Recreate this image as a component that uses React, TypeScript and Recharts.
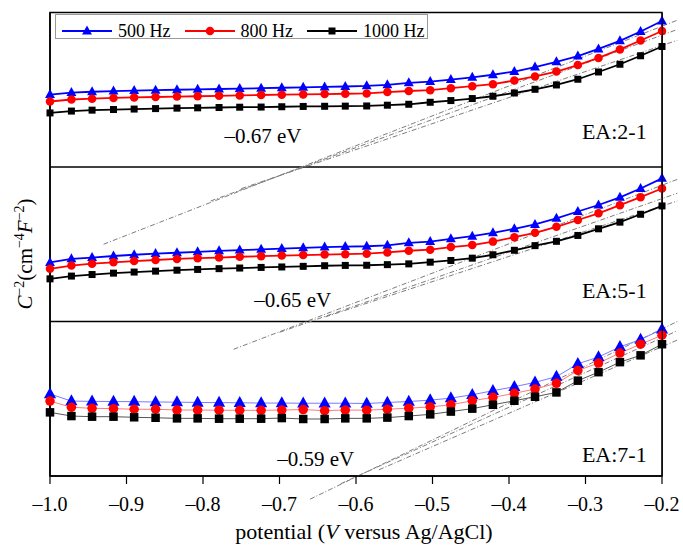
import React from "react";
import { LineChart, Line, XAxis, YAxis, ReferenceLine, ReferenceDot, ReferenceArea } from "recharts";

/**
 * Mott–Schottky plots (C^-2 vs potential) for three EA ratios,
 * stacked in three panels sharing one potential axis.
 * Panel values are in relative units (0–10 = panel height).
 */

const FONT = '"Liberation Serif", "Times New Roman", serif';

// potential (V versus Ag/AgCl)
const potential = [
  -1.0, -0.972, -0.945, -0.917, -0.89, -0.862, -0.834, -0.807, -0.779, -0.752,
  -0.724, -0.697, -0.669, -0.641, -0.614, -0.586, -0.559, -0.531, -0.503, -0.476,
  -0.448, -0.421, -0.393, -0.366, -0.338, -0.31, -0.283, -0.255, -0.228, -0.2,
];
const potentialTicks = [-1.0, -0.9, -0.8, -0.7, -0.6, -0.5, -0.4, -0.3, -0.2];

// EA:2-1
const ea21Hz500 = [4.69, 4.82, 4.87, 4.91, 4.94, 4.97, 5.0, 5.02, 5.05, 5.07, 5.1, 5.13, 5.15, 5.18, 5.21, 5.25, 5.32, 5.45, 5.53, 5.66, 5.8, 5.97, 6.18, 6.47, 6.8, 7.18, 7.64, 8.16, 8.77, 9.45];
const ea21Hz800 = [4.24, 4.37, 4.42, 4.47, 4.5, 4.53, 4.56, 4.58, 4.61, 4.63, 4.66, 4.68, 4.7, 4.72, 4.74, 4.76, 4.85, 4.92, 4.97, 5.1, 5.23, 5.36, 5.6, 5.86, 6.18, 6.6, 7.06, 7.61, 8.19, 8.8];
const ea21Hz1000 = [3.5, 3.62, 3.68, 3.72, 3.75, 3.78, 3.81, 3.83, 3.85, 3.87, 3.88, 3.9, 3.92, 3.93, 3.94, 3.95, 4.0, 4.06, 4.19, 4.3, 4.43, 4.58, 4.79, 5.03, 5.31, 5.68, 6.15, 6.65, 7.2, 7.8];

// EA:5-1
const ea51Hz500 = [3.82, 4.05, 4.14, 4.24, 4.32, 4.39, 4.45, 4.51, 4.57, 4.62, 4.67, 4.72, 4.77, 4.82, 4.85, 4.87, 4.93, 5.09, 5.17, 5.35, 5.52, 5.74, 6.0, 6.28, 6.67, 7.12, 7.54, 8.03, 8.61, 9.26];
const ea51Hz800 = [3.41, 3.62, 3.74, 3.83, 3.91, 3.98, 4.05, 4.1, 4.14, 4.19, 4.23, 4.27, 4.3, 4.33, 4.36, 4.39, 4.47, 4.58, 4.65, 4.82, 4.95, 5.17, 5.46, 5.74, 6.13, 6.57, 7.0, 7.53, 8.05, 8.61];
const ea51Hz1000 = [2.76, 2.94, 3.04, 3.13, 3.2, 3.26, 3.32, 3.37, 3.42, 3.46, 3.5, 3.53, 3.57, 3.61, 3.63, 3.64, 3.68, 3.73, 3.84, 3.95, 4.1, 4.32, 4.61, 4.91, 5.19, 5.57, 6.0, 6.43, 6.94, 7.48];

// EA:7-1
const ea71Hz500 = [5.31, 4.85, 4.83, 4.82, 4.81, 4.79, 4.78, 4.76, 4.75, 4.74, 4.72, 4.72, 4.71, 4.71, 4.71, 4.69, 4.76, 4.82, 4.91, 5.04, 5.26, 5.52, 5.78, 6.06, 6.43, 7.26, 7.7, 8.36, 8.83, 9.49];
const ea71Hz800 = [4.85, 4.45, 4.38, 4.36, 4.32, 4.32, 4.27, 4.27, 4.26, 4.25, 4.25, 4.27, 4.3, 4.23, 4.27, 4.26, 4.32, 4.39, 4.47, 4.61, 4.87, 5.09, 5.35, 5.63, 6.0, 6.83, 7.31, 7.96, 8.53, 9.11];
const ea71Hz1000 = [4.12, 3.88, 3.84, 3.84, 3.8, 3.77, 3.73, 3.73, 3.71, 3.71, 3.71, 3.75, 3.69, 3.69, 3.73, 3.73, 3.78, 3.88, 3.99, 4.17, 4.36, 4.61, 4.87, 5.13, 5.41, 6.17, 6.72, 7.37, 7.81, 8.53];

// linear fits extrapolated to the flat-band potential: [[x0, y0], [x1, y1]]
const fits21 = [
  [[-0.93, -5.0], [-0.18, 9.5]],
  [[-0.79, -2.2], [-0.18, 8.9]],
  [[-0.75, -1.4], [-0.18, 8.2]],
];
const fits51 = [
  [[-0.76, -1.8], [-0.18, 9.2]],
  [[-0.7, -0.7], [-0.18, 8.3]],
  [[-0.64, 0.3], [-0.18, 7.8]],
];
const fits71 = [
  [[-0.66, -1.5], [-0.18, 10.0]],
  [[-0.62, -0.5], [-0.18, 9.4]],
  [[-0.57, 0.4], [-0.18, 8.8]],
];

const flatBandLabels = ["–0.67 eV", "–0.65 eV", "–0.59 eV"];
const sampleLabels = ["EA:2-1", "EA:5-1", "EA:7-1"];

const rows = potential.map((x, i) => ({
  x,
  a500: ea21Hz500[i], a800: ea21Hz800[i], a1000: ea21Hz1000[i],
  b500: ea51Hz500[i], b800: ea51Hz800[i], b1000: ea51Hz1000[i],
  c500: ea71Hz500[i], c800: ea71Hz800[i], c1000: ea71Hz1000[i],
}));

const makeDot = (shape: string, color: string, size: number) => (props: any) => {
  const { cx, cy, index } = props;
  if (cx == null || cy == null) return <g key={index} />;
  if (shape === "triangle") {
    const s = size;
    return (
      <path
        key={index}
        d={`M${cx},${cy - s * 0.62}L${cx + s * 0.55},${cy + s * 0.38}L${cx - s * 0.55},${cy + s * 0.38}Z`}
        fill={color}
      />
    );
  }
  if (shape === "circle") return <circle key={index} cx={cx} cy={cy} r={size / 2} fill={color} />;
  return <rect key={index} x={cx - size / 2} y={cy - size / 2} width={size} height={size} fill={color} />;
};

const panels = [
  { id: "p1", keys: ["a500", "a800", "a1000"], fits: fits21, thin: false, fb: { x: -0.772, y: 1.55 }, ea: { x: -0.22, y: 1.8 } },
  { id: "p2", keys: ["b500", "b800", "b1000"], fits: fits51, thin: false, fb: { x: -0.733, y: 0.97 }, ea: { x: -0.22, y: 1.49 } },
  { id: "p3", keys: ["c500", "c800", "c1000"], fits: fits71, thin: true, fb: { x: -0.703, y: 0.65 }, ea: { x: -0.22, y: 0.91 } },
];

const freqStyle = [
  { name: "500 Hz", color: "#0000ff", thinColor: "#7a7aff", shape: "triangle", size: 9, bigSize: 11 },
  { name: "800 Hz", color: "#ff0000", thinColor: "#ff7a7a", shape: "circle", size: 8.5, bigSize: 9.5 },
  { name: "1000 Hz", color: "#000000", thinColor: "#555555", shape: "square", size: 7, bigSize: 8.5 },
];

const MARGIN = { top: 12.5, right: 21, left: 50, bottom: 10 };
const X_AXIS_H = 60;

const fmtTick = (v: number) => (v < 0 ? "–" : "") + Math.abs(v).toFixed(1);

const XTitle = (props: any) => {
  const vb = props.viewBox;
  return (
    <text x={vb.x + vb.width / 2 + 8} y={539} textAnchor="middle" fontFamily={FONT} fontSize={22} fill="#000">
      potential (<tspan fontStyle="italic">V</tspan> versus Ag/AgCl)
    </text>
  );
};

const YTitle = (props: any) => {
  const vb = props.viewBox;
  const x = vb.x - 18;
  const y = 254;
  return (
    <text x={x} y={y} transform={`rotate(-90, ${x}, ${y})`} textAnchor="middle" fontFamily={FONT} fontSize={21} fill="#000">
      <tspan fontStyle="italic">C</tspan>
      <tspan dy={-8} fontSize={14}>−2</tspan>
      <tspan dy={8}>(cm</tspan>
      <tspan dy={-8} fontSize={14}>−4</tspan>
      <tspan dy={8} fontStyle="italic">F</tspan>
      <tspan dy={-8} fontSize={14}>−2</tspan>
      <tspan dy={8}>)</tspan>
    </text>
  );
};

const LegendMark = ({ f }: { f: any }) => {
  const dot = makeDot(f.shape, f.color, f.size);
  return (
    <svg width={50} height={14} style={{ display: "block" }}>
      <line x1={0} y1={7} x2={50} y2={7} stroke={f.color} strokeWidth={2} />
      {dot({ cx: 25, cy: 7, index: 0 })}
    </svg>
  );
};

export default function App() {
  const W = 683;
  const H = 546;
  return (
    <div style={{ position: "relative", width: W, height: H, overflow: "hidden", background: "#fff" }}>
      <style>{"html, body { margin: 0; padding: 0; overflow: hidden; }"}</style>
      <LineChart width={W} height={H} data={rows} margin={MARGIN}>
        <XAxis
          dataKey="x"
          type="number"
          domain={[-1.0, -0.2]}
          ticks={potentialTicks}
          tickFormatter={fmtTick}
          height={X_AXIS_H}
          tickSize={8}
          tickMargin={13}
          axisLine={{ stroke: "#000", strokeWidth: 1.5 }}
          tickLine={{ stroke: "#000", strokeWidth: 1.2 }}
          tick={{ fill: "#000", fontSize: 20, fontFamily: FONT }}
          label={(p: any) => <XTitle {...p} />}
        />
        <YAxis yAxisId="p3" domain={[0, 30]} hide />
        <YAxis yAxisId="p2" domain={[-10, 20]} hide />
        <YAxis yAxisId="p1" domain={[-20, 10]} hide />

        {/* outer frame */}
        <ReferenceArea
          yAxisId="p3"
          x1={-1.0}
          x2={-0.2}
          y1={0}
          y2={30}
          ifOverflow="visible"
          fill="none"
          fillOpacity={0}
          stroke="#000"
          strokeWidth={1.5}
          strokeOpacity={1}
        />
        {/* left edge carries the y title; panel dividers */}
        <ReferenceLine yAxisId="p3" x={-1.0} ifOverflow="visible" stroke="#000" strokeWidth={1.5} label={(p: any) => <YTitle {...p} />} />
        <ReferenceLine yAxisId="p1" y={0} stroke="#000" strokeWidth={1.5} />
        <ReferenceLine yAxisId="p2" y={0} stroke="#000" strokeWidth={1.5} />

        {panels.map((p) =>
          p.fits.map((seg, j) => (
            <ReferenceLine
              key={`${p.id}-fit-${j}`}
              yAxisId={p.id}
              segment={[{ x: seg[0][0], y: seg[0][1] }, { x: seg[1][0], y: seg[1][1] }]}
              ifOverflow="visible"
              stroke="#7d7d7d"
              strokeWidth={1}
              strokeDasharray="5 2 1 2"
            />
          ))
        )}

        {panels.map((p) =>
          p.keys.map((k, j) => {
            const f = freqStyle[j];
            return (
              <Line
                key={k}
                dataKey={k}
                yAxisId={p.id}
                type="linear"
                stroke={p.thin ? f.thinColor : f.color}
                strokeWidth={p.thin ? 1 : 1.8}
                dot={makeDot(f.shape, f.color, p.thin ? f.bigSize : f.size)}
                activeDot={false}
                isAnimationActive={false}
              />
            );
          })
        )}

        {panels.map((p, i) => (
          <ReferenceDot
            key={`${p.id}-fb`}
            yAxisId={p.id}
            x={p.fb.x}
            y={p.fb.y}
            r={0}
            shape={(s: any) => (
              <text x={s.cx} y={s.cy} fontFamily={FONT} fontSize={21} fill="#000">
                {flatBandLabels[i]}
              </text>
            )}
          />
        ))}
        {panels.map((p, i) => (
          <ReferenceDot
            key={`${p.id}-ea`}
            yAxisId={p.id}
            x={p.ea.x}
            y={p.ea.y}
            r={0}
            shape={(s: any) => (
              <text x={s.cx} y={s.cy} textAnchor="end" fontFamily={FONT} fontSize={22} fill="#000">
                {sampleLabels[i]}
              </text>
            )}
          />
        ))}
      </LineChart>

      {/* right edge of the plot frame, drawn over the plot area box */}
      <div
        style={{
          position: "absolute",
          left: MARGIN.left,
          top: MARGIN.top,
          width: W - MARGIN.left - MARGIN.right,
          height: H - MARGIN.top - MARGIN.bottom - X_AXIS_H,
          boxSizing: "border-box",
          borderRight: "1.5px solid #000",
          transform: "translateX(0.75px)",
          pointerEvents: "none",
        }}
      />

      <div
        style={{
          position: "absolute",
          left: 55,
          top: 14,
          height: 25,
          boxSizing: "border-box",
          border: "1px solid #9a9a9a",
          background: "#fff",
          display: "flex",
          alignItems: "center",
          paddingTop: 8,
          paddingLeft: 6,
          paddingRight: 2,
          fontFamily: FONT,
          fontSize: 18,
          lineHeight: "18px",
        }}
      >
        {freqStyle.map((f, j) => (
          <div key={f.name} style={{ display: "flex", alignItems: "center", marginRight: j < 2 ? 14 : 0 }}>
            <LegendMark f={f} />
            <span style={{ marginLeft: 6 }}>{f.name}</span>
          </div>
        ))}
      </div>
    </div>
  );
}
